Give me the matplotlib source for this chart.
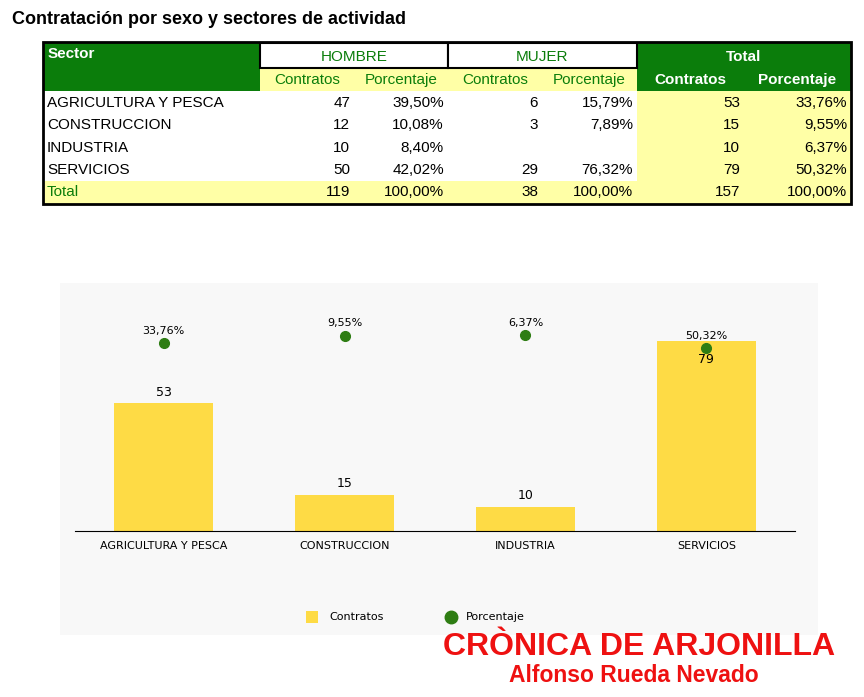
import matplotlib.pyplot as plt
from matplotlib.patches import Rectangle

W, H = 864, 697
fig = plt.figure(figsize=(W / 100, H / 100), dpi=100)
plt.rcParams['font.family'] = ['Liberation Sans', 'DejaVu Sans']

GREEN = '#0b7d0b'
LYEL = '#ffffa6'
YEL = '#fedb45'

def fx(x):
    return x / W

def fy(y):
    return 1 - y / H

def box(x0, y0, x1, y1, fc, ec='none', lw=0):
    fig.patches.append(Rectangle((fx(x0), fy(y1)), fx(x1) - fx(x0), fy(y0) - fy(y1),
                                 transform=fig.transFigure, fc=fc, ec=ec, lw=lw, zorder=-5))

fig.text(fx(12), fy(20), 'Contratación por sexo y sectores de actividad',
         fontsize=13, fontweight='bold', va='center')

# tabla
filas = [
    ['AGRICULTURA Y PESCA', '47', '39,50%', '6', '15,79%', '53', '33,76%'],
    ['CONSTRUCCION', '12', '10,08%', '3', '7,89%', '15', '9,55%'],
    ['INDUSTRIA', '10', '8,40%', '', '', '10', '6,37%'],
    ['SERVICIOS', '50', '42,02%', '29', '76,32%', '79', '50,32%'],
    ['Total', '119', '100,00%', '38', '100,00%', '157', '100,00%'],
]
cols = [43, 260, 354, 448, 542, 637, 744, 851]
box(43, 42, 260, 91, GREEN)
box(637, 42, 851, 91, GREEN)
box(260, 68, 637, 91, LYEL)
box(637, 91, 851, 181, LYEL)
box(43, 181, 851, 204, LYEL)
box(260, 43, 448, 68, 'white', 'black', 1.5)
box(448, 43, 637, 68, 'white', 'black', 1.5)
box(43, 42, 851, 204, 'none', 'black', 2)
fig.text(fx(48), fy(54), 'Sector', color='white', fontweight='bold', fontsize=11, va='center')
fig.text(fx(354), fy(57), 'HOMBRE', color=GREEN, fontsize=11, va='center', ha='center')
fig.text(fx(542), fy(57), 'MUJER', color=GREEN, fontsize=11, va='center', ha='center')
fig.text(fx(744), fy(57), 'Total', color='white', fontweight='bold', fontsize=11, va='center', ha='center')
for i, t in enumerate(['Contratos', 'Porcentaje'] * 3):
    x = (cols[i + 1] + cols[i + 2]) / 2
    if i < 4:
        fig.text(fx(x), fy(80), t, color=GREEN, fontsize=11, va='center', ha='center')
    else:
        fig.text(fx(x), fy(80), t, color='white', fontweight='bold', fontsize=11, va='center', ha='center')
for r, fila in enumerate(filas):
    y = 103 + r * 22.3
    c = GREEN if fila[0] == 'Total' else 'black'
    fig.text(fx(47), fy(y), fila[0], fontsize=11, va='center', color=c)
    for j, v in enumerate(fila[1:]):
        fig.text(fx(cols[j + 2] - 4), fy(y), v, fontsize=11, va='center', ha='right')

# grafico
sectores = ['AGRICULTURA Y PESCA', 'CONSTRUCCION', 'INDUSTRIA', 'SERVICIOS']
contratos = [53, 15, 10, 79]
porcentaje = [33.76, 9.55, 6.37, 50.32]

box(60, 283, 818, 635, '#f8f8f8')
ax = fig.add_axes([fx(75), fy(531), fx(795) - fx(75), fy(283) - fy(531)])
ax.patch.set_alpha(0)
x = range(len(sectores))
ax.bar(x, contratos, width=0.55, color=YEL)
for i, v in enumerate(contratos):
    if v == max(contratos):
        ax.text(i, v - 5, str(v), ha='center', va='top', fontsize=9, family='DejaVu Sans')
    else:
        ax.text(i, v + 2, str(v), ha='center', va='bottom', fontsize=9, family='DejaVu Sans')
ax.set_xlim(-0.49, 3.49)
ax.set_ylim(0, 103)
ax.set_yticks([])
ax.set_xticks(list(x))
ax.set_xticklabels(sectores, fontsize=8, family='DejaVu Sans')
ax.tick_params(length=0, pad=7)
for s in ['top', 'right', 'left']:
    ax.spines[s].set_visible(False)
ax2 = ax.twinx()
ax2.plot(x, porcentaje, 'o', color='#2e7d13', ms=7, zorder=5)
for i, p in enumerate(porcentaje):
    ax2.text(i, p - 25, f'{p:.2f}%'.replace('.', ','), ha='center', va='bottom',
             fontsize=8, family='DejaVu Sans')
ax2.set_ylim(668, -169)
ax2.axis('off')

fig.patches.append(Rectangle((fx(306), fy(623)), fx(12), 12 / H, transform=fig.transFigure, fc=YEL))
fig.text(fx(329), fy(617), 'Contratos', fontsize=8, va='center', family='DejaVu Sans')
fig.lines.append(plt.Line2D([fx(451)], [fy(617)], marker='o', ms=9, color='#2e7d13',
                            transform=fig.transFigure))
fig.text(fx(466), fy(617), 'Porcentaje', fontsize=8, va='center', family='DejaVu Sans')

fig.text(fx(639), fy(647), 'CRÒNICA DE ARJONILLA', color='#ee1111', fontsize=23,
         fontweight='bold', ha='center', va='center')
fig.text(fx(634), fy(675), 'Alfonso Rueda Nevado', color='#ee1111', fontsize=16.5,
         fontweight='bold', ha='center', va='center')

plt.savefig('out.png', dpi=100)
plt.close()
